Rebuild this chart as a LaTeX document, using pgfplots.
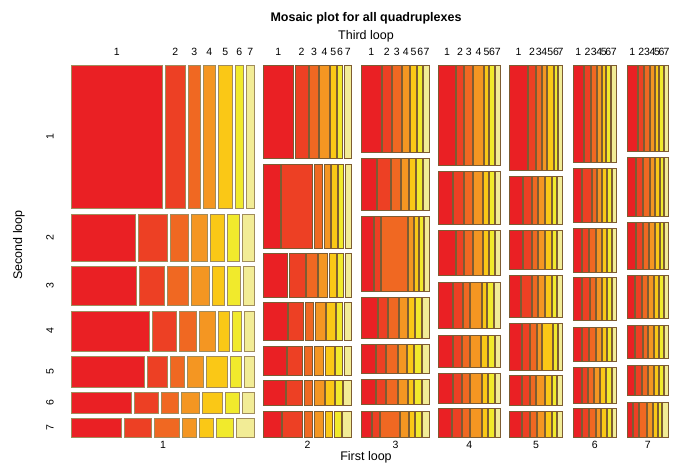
\documentclass[border=0pt]{standalone}
\usepackage{pgfplots}
\usepackage{pgfplotstable}
\pgfplotsset{compat=1.18}
\usepackage{fontspec}
\setmainfont{Liberation Sans}
\definecolor{t1}{RGB}{234,32,36}
\definecolor{t2}{RGB}{237,64,36}
\definecolor{t3}{RGB}{240,104,34}
\definecolor{t4}{RGB}{244,150,34}
\definecolor{t5}{RGB}{250,200,22}
\definecolor{t6}{RGB}{241,234,44}
\definecolor{t7}{RGB}{242,236,150}
\definecolor{bordA}{RGB}{160,140,92}
\definecolor{bordB}{RGB}{125,92,50}
\newcommand\tickfont{\fontsize{10.5}{12}\selectfont}
\pgfplotstableread{
c r g y0 y1 b0 b1 b2 b3 b4 b5 b6 b7
1 1 3 65 208 70 163.8 186.7 201.7 217 233.7 244.7 256
1 2 3 214 261 70 136.7 168.7 190.2 209.2 226 241.3 256
1 3 3 266 305 70 138 166.2 190.3 210.7 226 242.2 256
1 4 3 311 351 70 151 178.3 197.5 216.7 231 243.3 256
1 5 3 356 387 70 146 169.2 185.8 204.7 229.2 242.7 256
1 6 3 392 413 70 132.7 159.5 180.2 201.3 224 240.7 256
1 7 3 418 437 70 122.7 152.5 180.8 198.3 215 234.7 256
2 1 1.5 65 158 262.5 294.3 309 319 330 336.7 343.3 352.5
2 2 1.5 164 248 262.5 281 313.3 323.3 331 337.7 344.3 352.5
2 3 1.5 253 297 262.5 288.3 305.7 317.7 328.3 336.7 344.3 352.5
2 4 1.5 302 340 262.5 287.7 304.3 314.3 325.7 336 343.3 352.5
2 5 1.5 346 375 262.5 286.7 303.3 313.3 324.3 335 343.3 352.5
2 6 1.5 380 405 262.5 286 303.3 313.3 325 335 342.7 352.5
2 7 1.5 411 437 262.5 281.7 303.3 313.3 324.3 333.3 341.7 352.5
3 1 1 65 152 361 381.7 391.7 401.7 410 417.3 423.3 430
3 2 1 158 210 361 376.7 391 401 409 416 422.7 430
3 3 1 216 291 361 374 381 407.7 414.3 419.3 424 430
3 4 1 297 338 361 377.7 388.3 399 408.3 415 421.7 430
3 5 1 344 373 361 375.7 385.7 397.7 406.7 414.3 421.7 430
3 6 1 379 404 361 375.7 385.7 397.7 407.7 414.3 421.7 430
3 7 1 411 437 361 372.3 380 400 409 415 421.7 430
4 1 1 65 165 438 456 464.3 473.3 484 489.3 495 500.5
4 2 1 171 224 438 453.3 464.3 472.7 483.3 489.3 495 500.5
4 3 1 230 275 438 456 464.3 473.3 483.3 489.3 495 500.5
4 4 1 282 328 438 452.7 462.7 470 481.7 487.3 494 500.5
4 5 1 335 367 438 452.7 461.7 470 480.7 488.3 495 500.5
4 6 1 373 403 438 452.7 461.7 470 481.7 488.3 495 500.5
4 7 1 408 437 438 451.7 461.7 470 481.7 488.3 495 500.5
5 1 1 65 170 509 528.3 536 541.7 546.7 554 558.3 563
5 2 1 176 224 509 522.7 531.7 538.3 545 551.7 557.3 563
5 3 1 230 269 509 522.7 531.7 538.3 545 551.7 557.3 563
5 4 1 275 317 509 520.7 531.7 538.3 545 551.7 557.3 563
5 5 1 323 370 509 522.3 530 536.7 541.7 553.3 558.3 563
5 6 1 375 405 509 521.7 530 536 545 551.7 557.3 563
5 7 1 411 437 509 521.7 530 537.3 545 551.7 557.3 563
6 1 1 65 162 572.5 584 591 596.7 601.7 606 610.7 617
6 2 1 168 222 572.5 582.3 591.7 596.7 601.7 606.7 611.7 617
6 3 1 228 272 572.5 581.7 589.3 595.7 601.7 606.7 611.7 617
6 4 1 277 320 572.5 582.3 590 595.7 601.7 607.3 611.7 617
6 5 1 327 361 572.5 581.7 589.3 595.7 601.7 606.7 611.7 617
6 6 1 367 403 572.5 581.7 588.3 594.3 600 605.7 611.7 617
6 7 1 408 437 572.5 581.7 589.3 595.7 600.7 606.7 611.7 617
7 1 1 65 151 626.5 638.3 644.3 650 655 659.3 664 669
7 2 1 157 216 626.5 636 643.3 650 655 660 664.3 669
7 3 1 222 269 626.5 636 643.3 649.3 655 660 664.3 669
7 4 1 275 318 626.5 635 641.7 648.3 654 659.3 664.3 669
7 5 1 325 358 626.5 635 642.7 648.3 654 659.3 664.3 669
7 6 1 365 395 626.5 635 641.7 648.3 654 659.3 664.3 669
7 7 1 402 437 626.5 632.7 639.3 646.7 652.7 658.3 662.3 669
}\tiles
\begin{document}
\begin{tikzpicture}
\path[use as bounding box] (0,0) rectangle (679pt,463pt);
\begin{axis}[at={(0,0)}, anchor=south west, scale only axis,
  width=679pt, height=463pt, xmin=0, xmax=679, ymin=0, ymax=463,
  y dir=reverse, axis lines=none, clip=false]
\pgfplotstablegetrowsof{\tiles}
\pgfmathtruncatemacro\nrows{\pgfplotsretval-1}
\foreach \i in {0,...,\nrows}{
  \pgfplotstablegetelem{\i}{c}\of\tiles \pgfmathtruncatemacro\cc{\pgfplotsretval}
  \pgfplotstablegetelem{\i}{r}\of\tiles \pgfmathtruncatemacro\rr{\pgfplotsretval}
  \pgfplotstablegetelem{\i}{g}\of\tiles \pgfmathsetmacro\gap{\pgfplotsretval}
  \pgfplotstablegetelem{\i}{y0}\of\tiles \pgfmathsetmacro\ya{\pgfplotsretval}
  \pgfplotstablegetelem{\i}{y1}\of\tiles \pgfmathsetmacro\yb{\pgfplotsretval}
  \ifnum\cc=1 \def\bord{bordA}\else\def\bord{bordB}\fi
  \foreach \k in {1,...,7}{
    \pgfmathtruncatemacro\km{\k-1}
    \pgfplotstablegetelem{\i}{b\km}\of\tiles \pgfmathsetmacro\xl{\pgfplotsretval}
    \pgfplotstablegetelem{\i}{b\k}\of\tiles \pgfmathsetmacro\xr{\pgfplotsretval}
    \pgfmathsetmacro\xa{\xl+\gap/2}
    \pgfmathsetmacro\xb{\xr-\gap/2}
    \edef\temp{\noexpand\addplot[draw=\bord, fill=t\k, line width=0.8pt]
      coordinates {(\xa,\ya) (\xb,\ya) (\xb,\yb) (\xa,\yb)} --cycle;}
    \temp
    \ifnum\rr=1
      \pgfmathsetmacro\xc{(\xl+\xr)/2}
      \edef\temp{\noexpand\node[font=\noexpand\tickfont, inner sep=0pt] at (axis cs:\xc,52) {\k};}
      \temp
    \fi
  }
  \ifnum\cc=1
    \pgfmathsetmacro\yc{(\ya+\yb)/2}
    \edef\temp{\noexpand\node[font=\noexpand\tickfont, rotate=90] at (axis cs:50,\yc) {\rr};}
    \temp
  \fi
  \ifnum\rr=1
    \pgfplotstablegetelem{\i}{b0}\of\tiles \pgfmathsetmacro\xl{\pgfplotsretval}
    \pgfplotstablegetelem{\i}{b7}\of\tiles \pgfmathsetmacro\xr{\pgfplotsretval}
    \pgfmathsetmacro\xc{(\xl+\xr)/2}
    \edef\temp{\noexpand\node[font=\noexpand\tickfont] at (axis cs:\xc,445) {\cc};}
    \temp
  \fi
}
\node[font=\fontsize{12.5}{14}\selectfont\bfseries] at (axis cs:366,18) {Mosaic plot for all quadruplexes};
\node[font=\fontsize{12.5}{14}\selectfont] at (axis cs:366,36) {Third loop};
\node[font=\fontsize{12.5}{14}\selectfont] at (axis cs:366,457) {First loop};
\node[font=\fontsize{12.5}{14}\selectfont, rotate=90] at (axis cs:19,245) {Second loop};
\end{axis}
\end{tikzpicture}
\end{document}
